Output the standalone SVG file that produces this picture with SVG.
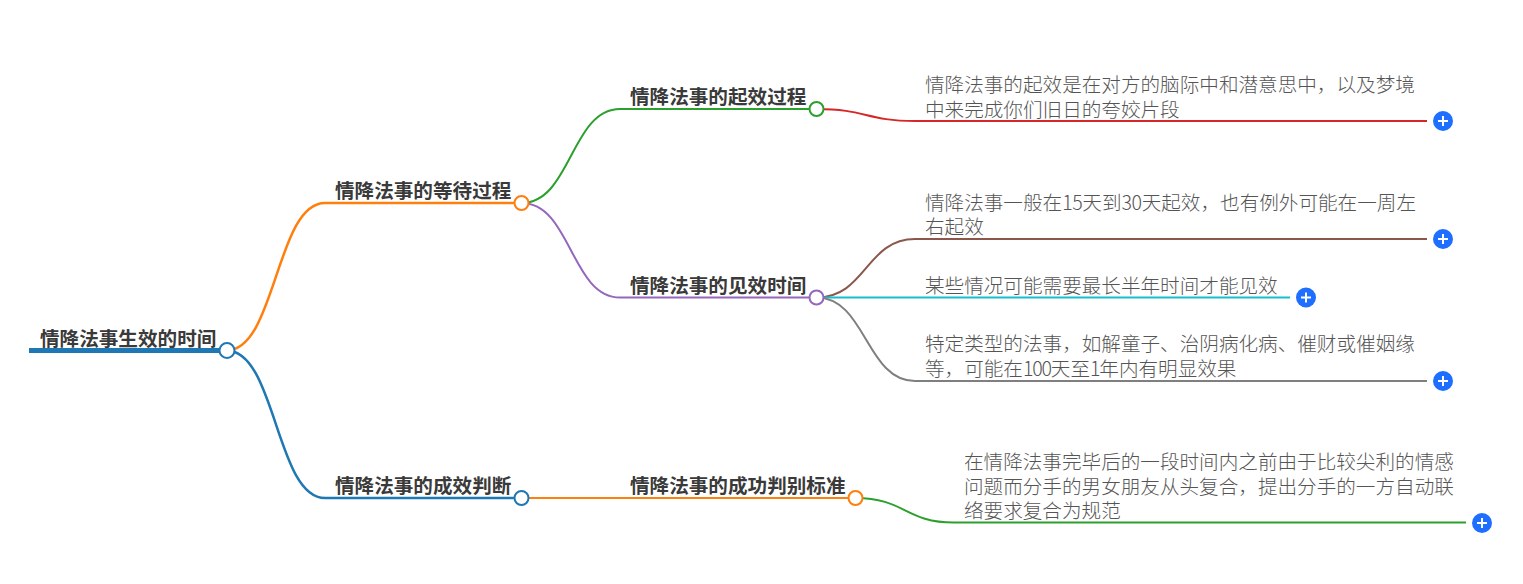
<svg xmlns="http://www.w3.org/2000/svg" width="1523" height="584" viewBox="0 0 1523 584">
<style>
text{font-family:"Noto Sans CJK SC","Noto Sans",sans-serif;font-size:19.6px}
.b{font-weight:700;fill:#3a3a3a}
.l{fill:#555;font-weight:300}
.d{letter-spacing:-1.2px}
.e{letter-spacing:-.4px}
.c path{fill:none;stroke-width:2}
.n{fill:#fff;stroke-width:2}
.p{fill:#1e6eff}
.m{stroke:#fff;stroke-width:2;fill:none}
</style>
<defs><g id="plus"><circle class="p" r="10"/><path class="m" d="M-5 0H5M0-5V5"/></g></defs>
<rect width="1523" height="584" fill="#fff"/>
<g id="connectors" class="c">
<path d="M29 350.500H226.500" style="stroke:#1f77b4;stroke-width:5"/>
<path d="M226.500 350.500C276 350.500 276 203 325 203H521.500" style="stroke:#ff7f0e;stroke-width:2.500"/>
<path d="M226.500 350.500C276 350.500 276 498 325 498H521.500" style="stroke:#1f77b4;stroke-width:2.500"/>
<path d="M521.500 203C571 203 571 109 620 109H816.500" stroke="#2ca02c"/>
<path d="M521.500 203C571 203 571 297.500 620 297.500H816.500" stroke="#9467bd"/>
<path d="M521.500 498H855.500" stroke="#ff7f0e"/>
<path d="M816.500 109C866 109 866 121 915 121H1427" stroke="#d62728"/>
<path d="M816.500 297.500C866 297.500 866 239 915 239H1427" stroke="#8c564b"/>
<path d="M816.500 297.500H1290" stroke="#17becf"/>
<path d="M816.500 297.500C866 297.500 866 381 915 381H1427" stroke="#7f7f7f"/>
<path d="M855.500 498C905 498 905 522.500 954 522.500H1466" stroke="#2ca02c"/>
</g>
<g id="root"><text class="b" x="40" y="346">情降法事生效的时间</text><circle class="n" cx="227" cy="350.500" r="7.500" stroke="#1f77b4"/></g>
<g id="n1"><text class="b" x="335" y="198">情降法事的等待过程</text><circle class="n" cx="521.500" cy="203" r="7" stroke="#ff7f0e"/></g>
<g id="n2"><text class="b" x="335" y="493">情降法事的成效判断</text><circle class="n" cx="521.500" cy="498" r="7" stroke="#1f77b4"/></g>
<g id="n3"><text class="b" x="630" y="104">情降法事的起效过程</text><circle class="n" cx="816.500" cy="109" r="7" stroke="#2ca02c"/></g>
<g id="n4"><text class="b" x="630" y="293">情降法事的见效时间</text><circle class="n" cx="816.500" cy="297.500" r="7" stroke="#9467bd"/></g>
<g id="n5"><text class="b" x="630" y="493">情降法事的成功判别标准</text><circle class="n" cx="855.500" cy="498" r="7" stroke="#ff7f0e"/></g>
<g id="l1"><text class="l" x="925" y="92">情降法事的起效是在对方的脑际中和潜意思中，以及梦境</text><text class="l" x="925" y="117">中来完成你们旧日的夸姣片段</text><use href="#plus" x="1443" y="121"/></g>
<g id="l2"><text class="l" x="925" y="210">情降法事一般在<tspan class="e">15</tspan>天到<tspan class="e">30</tspan>天起效，也有例外可能在一周左</text><text class="l" x="925" y="234">右起效</text><use href="#plus" x="1443" y="239"/></g>
<g id="l3"><text class="l" x="925" y="293">某些情况可能需要最长半年时间才能见效</text><use href="#plus" x="1306" y="297.500"/></g>
<g id="l4"><text class="l" x="925" y="351">特定类型的法事，如解童子、治阴病化病、催财或催姻缘</text><text class="l" x="925" y="376">等，可能在<tspan class="d">100</tspan>天至<tspan class="d">1</tspan>年内有明显效果</text><use href="#plus" x="1443" y="381"/></g>
<g id="l5"><text class="l" x="964" y="469">在情降法事完毕后的一段时间内之前由于比较尖利的情感</text><text class="l" x="964" y="494">问题而分手的男女朋友从头复合，提出分手的一方自动联</text><text class="l" x="964" y="518">络要求复合为规范</text><use href="#plus" x="1482" y="523"/></g>
</svg>
